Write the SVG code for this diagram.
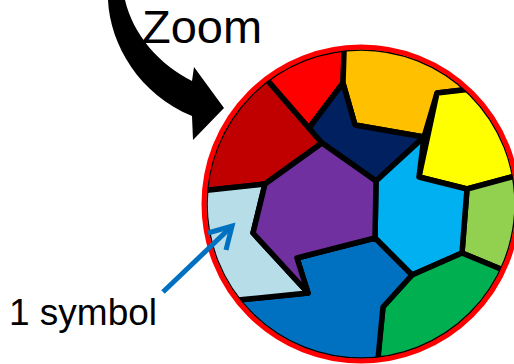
<svg xmlns="http://www.w3.org/2000/svg" width="514" height="364" viewBox="0 0 514 364">
<style>
.cell{stroke:#000;stroke-width:5.5;stroke-linejoin:round}
.lbl{font-family:"Liberation Sans",Arial,sans-serif;fill:#000}
.ptr{fill:none;stroke:#0070C0;stroke-width:5;stroke-linejoin:miter}
</style>
<defs>
<clipPath id="disk"><circle cx="361" cy="204" r="156"/></clipPath>
</defs>
<g id="symbols" clip-path="url(#disk)">
<polygon id="cell-darkred" class="cell" fill="#C00000" points="229,36 322,143 265,184 190,192 190,36"/>
<polygon id="cell-red" class="cell" fill="#FF0000" points="229,36 345,36 343,83 309,128"/>
<polygon id="cell-orange" class="cell" fill="#FFC000" points="345,20 480,20 480,88 437,93 424,137 355,125 343,83"/>
<polygon id="cell-navy" class="cell" fill="#002060" points="343,83 355,125 424,137 376,181 322,143 309,128"/>
<polygon id="cell-yellow" class="cell" fill="#FFFF00" points="437,93 480,88 530,88 530,172 467,189 419,177"/>
<polygon id="cell-lightgreen" class="cell" fill="#92D050" points="467,189 530,172 530,280 503,270 462,253"/>
<polygon id="cell-sky" class="cell" fill="#00B0F0" points="376,181 424,137 419,177 467,189 462,253 412,275 375,238"/>
<polygon id="cell-green" class="cell" fill="#00B050" points="412,275 462,253 503,270 530,280 530,380 376,380 377,363 383,307"/>
<polygon id="cell-blue" class="cell" fill="#0070C0" points="297,258 375,238 412,275 383,307 376,380 215,380 220,302 238,300 308,293"/>
<polygon id="cell-lightblue" class="cell" fill="#B7DEE8" points="190,192 265,184 253,233 308,293 238,300 190,302"/>
<polygon id="cell-purple" class="cell" fill="#7030A0" points="322,143 376,181 375,238 297,258 308,293 253,233 265,184"/>
</g>
<g id="rim">
<circle cx="361" cy="204" r="154" fill="none" stroke="#000" stroke-width="1.5"/>
<circle cx="361" cy="204" r="157" fill="none" stroke="#FF0000" stroke-width="5"/>
</g>
<g id="connectors">
<path id="zoom-arrow" d="M108,0 C110,45 140,95 192,116 L193,140 L224,108 L194,67 L192,81 C160,65 133,35 125,0 Z" fill="#000"/>
<g id="symbol-pointer">
<line class="ptr" x1="163" y1="292" x2="231" y2="227"/>
<polyline class="ptr" points="208,233 232,226 226,250"/>
</g>
</g>
<g id="label-zoom"><text class="lbl" x="142" y="43" font-size="47">Zoom</text></g>
<g id="label-symbol"><text class="lbl" x="9" y="325" font-size="37">1 symbol</text></g>
</svg>
